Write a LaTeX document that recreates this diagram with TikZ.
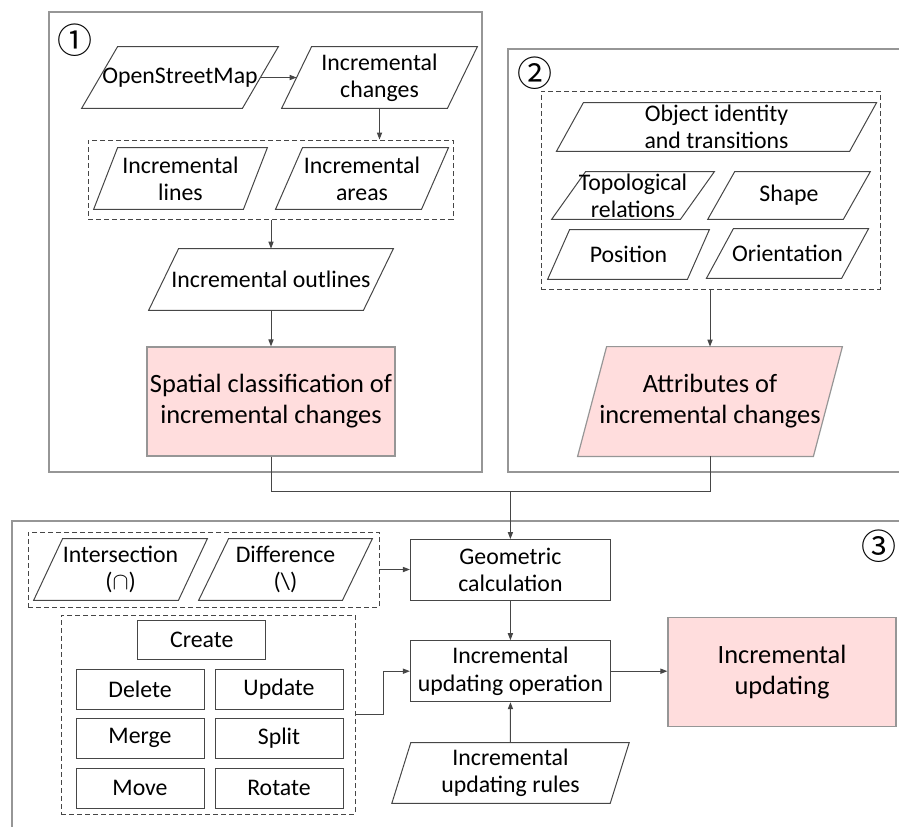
\documentclass[tikz,border=0pt]{standalone}
\usepackage{fontspec}
\setmainfont{Carlito}
\newfontfamily\cjk{Noto Sans CJK SC}
\usetikzlibrary{arrows.meta}
\usetikzlibrary{fit}
\usetikzlibrary{backgrounds}
\definecolor{pinkfill}{RGB}{255,221,221}
\definecolor{boxgray}{RGB}{150,150,150}
\definecolor{linegray}{RGB}{70,70,70}
\tikzset{x=0.5pt, y=-0.5pt,
>={Triangle[length=3.5pt,width=2.6pt]},
every node/.style={
align=center,
inner sep=0pt,
font=\fontsize{11.9}{13.6}\selectfont},
data/.style={
rectangle},
frame/.style={
draw=linegray,
line width=0.5pt},
proc/.style={
rectangle,
draw=linegray,
line width=0.5pt},
result/.style={
fill=pinkfill,
draw=boxgray,
line width=0.6pt},
big/.style={
font=\fontsize{13.2}{15.5}\selectfont},
group/.style={
draw=linegray,
dash pattern=on 2.5pt off 1.5pt,
line width=0.5pt,
inner sep=0pt},
panel/.style={
draw=boxgray,
line width=0.8pt},
link/.style={
draw=linegray,
line width=0.5pt},
num/.style={
font=\cjk\fontsize{17.5}{17.5}\selectfont}}

\begin{document}
\begin{tikzpicture}
\useasboundingbox (0,0) rectangle (899,826);
% panels
\draw[panel] (49,12) rectangle (482,472);
\draw[panel] (905,49) -- (508,49) -- (508,472) -- (905,472);
\draw[panel] (905,521) -- (12,521) -- (12,832);
\node[num] (n1) at (75,40) {①};
\node[num] (n2) at (535,73) {②};
\node[num] (n3) at (878.7,546) {③};

% panel 1
\node[data, minimum width=80pt, minimum height=30.5pt] (osm) at (180,77.5) {OpenStreetMap};
\node[data, minimum width=82.5pt, minimum height=30.5pt] (chg) at (379.5,77.5) {Incremental\\changes};
\node[data, minimum width=74.5pt, minimum height=30.5pt] (lines) at (180.5,178.5) {Incremental\\lines};
\node[data, minimum width=72.6pt, minimum height=30.5pt] (areas) at (362,178.5) {Incremental\\areas};
\node[group, fit={(88,140) (453,219)}] (grpA) {};
\node[data, minimum width=107pt, minimum height=30.5pt] (outl) at (271,279.5) {Incremental outlines};
\node[proc, result, big, minimum width=124pt, minimum height=54.5pt] (spatial) at (271,401.5) {Spatial classification of\\incremental changes};

% panel 2
\node[data, minimum width=146.2pt, minimum height=24pt] (ident) at (716.5,127) {Object identity\\and transitions};
\node[data, minimum width=64pt, minimum height=23.5pt] (topo) at (633,195.5) {Topological\\relations};
\node[data, minimum width=67.4pt, minimum height=23.5pt] (shp) at (789,195.5) {Shape};
\node[data, minimum width=69.5pt, minimum height=24.5pt] (pos) at (628.5,254.5) {Position};
\node[data, minimum width=67.2pt, minimum height=24.5pt] (orient) at (787.5,253.5) {Orientation};
\node[group, fit={(541,91) (880,289)}] (grpB) {};
\node[data, big, minimum width=117.5pt, minimum height=54.5pt] (attr) at (710,401.5) {Attributes of\\incremental changes};

% panel 3
\node[data, minimum width=72pt, minimum height=30.5pt] (inter) at (120.5,569.5) {Intersection\\($\cap$)};
\node[data, minimum width=71.5pt, minimum height=30.5pt] (diff) at (285.5,569.5) {Difference\\(\textbackslash)};
\node[group, fit={(28,532) (379,607)}] (grpC) {};
\node[proc, minimum width=100pt, minimum height=30.5pt] (geo) at (510.4,570) {Geometric\\calculation};
\node[proc, minimum width=64pt, minimum height=19.5pt] (create) at (201.8,640.3) {Create};
\node[proc, minimum width=64pt, minimum height=20pt] (del) at (140,689.3) {Delete};
\node[proc, minimum width=64pt, minimum height=20pt] (updt) at (279,689.3) {Update};
\node[proc, minimum width=64pt, minimum height=20pt] (merge) at (140,738.3) {Merge};
\node[proc, minimum width=64pt, minimum height=20pt] (split) at (279,738.3) {Split};
\node[proc, minimum width=64pt, minimum height=20pt] (move) at (140,788.3) {Move};
\node[proc, minimum width=64pt, minimum height=20pt] (rot) at (279,788.3) {Rotate};
\node[group, fit={(61,615) (355,814)}] (grpD) {};
\node[proc, minimum width=100pt, minimum height=30.5pt] (oper) at (510.4,671.2) {Incremental\\updating operation};
\node[proc, result, big, minimum width=114pt, minimum height=54.5pt] (upd) at (782,671.7) {Incremental\\updating};
\node[data, minimum width=108.8pt, minimum height=30pt] (rules) at (510.5,773) {Incremental\\updating rules};

% parallelogram outlines of the data nodes
\begin{scope}[on background layer]
\foreach \n/\e in {osm/36, chg/30, lines/24, areas/27, outl/30, ident/27, topo/34, shp/27, pos/22, orient/27, inter/29, diff/30, rules/19}
  \draw[frame] ([xshift=-\e*0.25pt]\n.south west) -- ([xshift=\e*0.25pt]\n.north west)
    -- ([xshift=\e*0.25pt]\n.north east) -- ([xshift=-\e*0.25pt]\n.south east) -- cycle;
\draw[result] ([xshift=-7.25pt]attr.south west) -- ([xshift=7.25pt]attr.north west)
  -- ([xshift=7.25pt]attr.north east) -- ([xshift=-7.25pt]attr.south east) -- cycle;
\end{scope}

% connectors
\coordinate (join) at (510.4,491);
\draw[link, ->] (osm) -- (chg);
\draw[link, ->] (chg) -- (chg |- grpA.north);
\draw[link, ->] (grpA.south -| outl) -- (outl);
\draw[link, ->] (outl) -- (spatial);
\draw[link, ->] (grpB.south -| attr) -- (attr);
\draw[link] (spatial) |- (join) -| (attr);
\draw[link, ->] (join) -- (join |- geo.north);
\draw[link, ->] (grpC.east) -- (grpC.east -| geo.west);
\draw[link, ->] (geo) -- (oper);
\draw[link, ->] (grpD.east) -- ++(27.6,0) |- (oper.west);
\draw[link, ->] (oper.east) -- (oper.east -| upd.west);
\draw[link, ->] (rules) -- (oper);
\end{tikzpicture}
\end{document}
